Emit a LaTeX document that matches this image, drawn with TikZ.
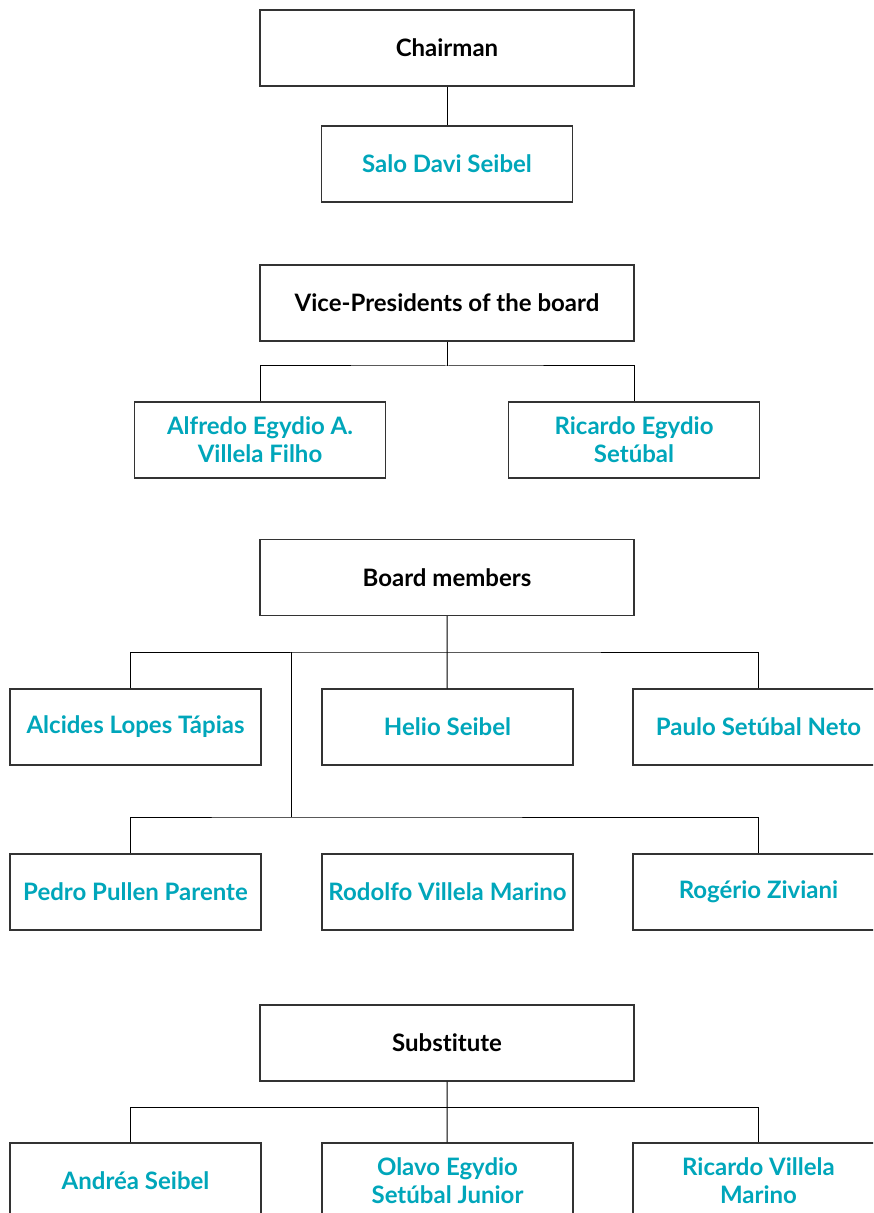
\documentclass[tikz,border=0pt]{standalone}
\usepackage{fontspec}
\setmainfont{Lato}[Ligatures=NoCommon]
\usetikzlibrary{calc}
\definecolor{teal}{RGB}{0,166,186}
\tikzset{
  head/.style={draw=black!80, line width=0.7pt, minimum width=187pt, minimum height=38pt,
    inner sep=0pt, align=center, font=\fontsize{12}{14}\selectfont\bfseries},
  person/.style={head, minimum width=125.5pt, text=teal},
  link/.style={draw=black, line width=0.5pt}
}

\begin{document}
\begin{tikzpicture}[x=0.5pt, y=-0.5pt]
			%%%%% START %%%%%
			\clip (0, 0) rectangle (873, 1213);
			
			\node[head] (chair) at (447, 48) {Chairman};
			\node[person] (salo) at (447, 164) {Salo Davi Seibel};
			\draw[link] (chair) -- (salo);
			
			\node[head] (vp) at (447, 303) {Vice-Presidents of the board};
			\node[person] (alf) at (260, 440) {Alfredo Egydio A.\\Villela Filho};
			\node[person] (ric) at (634, 440) {Ricardo Egydio\\Setúbal};
			\coordinate (vpj) at (447, 366);
			\draw[link] (vp) -- (vpj);
			\draw[link] (alf) |- (vpj) -| (ric);
			
			\node[head] (bm) at (447, 577.5) {Board members};
			\node[person] (alc) at (135.5, 727) {Alcides Lopes Tápias};
			\node[person] (hel) at (447.5, 727) {Helio Seibel};
			\node[person] (pau) at (758.5, 727) {Paulo Setúbal Neto};
			\coordinate (bmj) at (447, 652);
			\coordinate (bmk) at (291, 652);
			\coordinate (bml) at (291, 817);
			\draw[link] (bm) -- (bmj) -- (hel);
			\draw[link] ($(alc.north)+(-5, 0)$) |- (bmj) -| (pau);
			\draw[link] (bmk) -- (bml);
			
			\node[person] (ped) at (135.5, 892) {Pedro Pullen Parente};
			\node[person] (rod) at (447.5, 892) {Rodolfo Villela Marino};
			\node[person] (rog) at (758.5, 892) {Rogério Ziviani};
			\draw[link] ($(ped.north)+(-5, 0)$) |- (bml) -| (rog);
			
			\node[head] (sub) at (447, 1043) {Substitute};
			\node[person] (and) at (135.5, 1181) {Andréa Seibel};
			\node[person] (ola) at (447.5, 1181) {Olavo Egydio\\Setúbal Junior};
			\node[person] (rvm) at (758.5, 1181) {Ricardo Villela\\Marino};
			\coordinate (subj) at (447, 1107);
			\draw[link] (sub) -- (subj) -- (ola);
			\draw[link] ($(and.north)+(-5, 0)$) |- (subj) -| (rvm);
			
			%%%%% END %%%%%
\end{tikzpicture}
\end{document}
